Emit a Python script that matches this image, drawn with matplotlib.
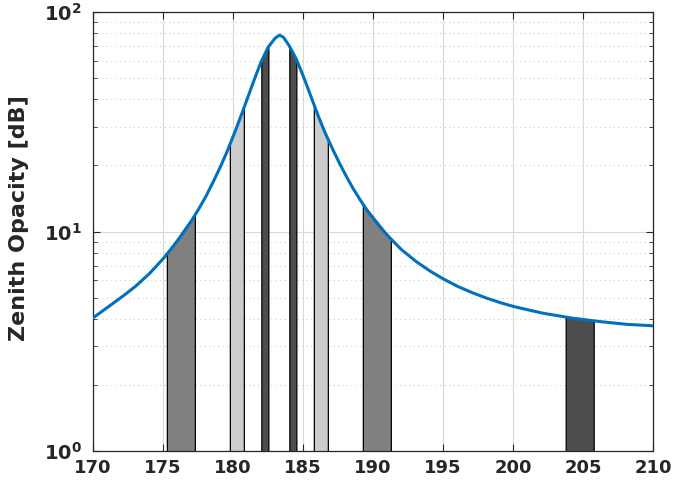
import numpy as np
import matplotlib
matplotlib.use("Agg")
import matplotlib.pyplot as plt
from matplotlib.ticker import LogLocator, MultipleLocator, NullFormatter

# opacity curve (GHz, dB)
freq = [170, 171, 172, 173, 174, 175, 176, 177, 177.5, 178, 178.5, 179, 179.5,
        180, 180.5, 181, 181.5, 182, 182.5, 183, 183.31, 183.6, 184, 184.5,
        185, 185.5, 186, 186.5, 187, 187.5, 188, 188.5, 189, 189.5, 190, 190.5,
        191, 192, 193, 194, 195, 196, 197, 198, 199, 200, 202, 204, 206, 208, 210]
opacity = [4.04, 4.5, 5.0, 5.6, 6.4, 7.5, 9.0, 11.1, 12.5, 14.2, 16.4, 19.1,
           22.5, 27.0, 32.7, 39.9, 48.9, 59.2, 69.1, 76.0, 78.5, 76.8, 70.5,
           61.5, 51.5, 42.3, 34.7, 28.9, 24.6, 21.1, 18.3, 16.0, 14.2, 12.7,
           11.5, 10.5, 9.65, 8.3, 7.36, 6.65, 6.09, 5.64, 5.29, 5.0, 4.76,
           4.56, 4.26, 4.05, 3.9, 3.78, 3.72]

# channel passbands (lower edge, upper edge) and their shading
band_lo = [175.31, 179.81, 182.06, 184.06, 185.81, 189.31, 203.8]
band_hi = [177.31, 180.81, 182.56, 184.56, 186.81, 191.31, 205.8]
band_col = ['#808080', '#cccccc', '#4d4d4d', '#4d4d4d', '#cccccc', '#808080', '#4d4d4d']

plt.rcParams['mathtext.default'] = 'bf'

fig = plt.figure(figsize=(6.87, 4.82), dpi=100)
ax = fig.add_axes([0.1354, 0.0643, 0.8151, 0.9107])

# draw the line in log space through the read points
fx = np.linspace(170, 210, 800)
fy = 10 ** np.interp(fx, freq, np.log10(opacity))

for lo, hi, c in zip(band_lo, band_hi, band_col):
    xs = np.linspace(lo, hi, 30)
    top = 10 ** np.interp(xs, freq, np.log10(opacity))
    ax.fill_between(xs, 1, top, facecolor=c, edgecolor='none', zorder=2)
    ax.plot([lo, lo, hi, hi], [1, top[0], top[-1], 1], color='black', lw=0.9, zorder=3)
    ax.plot(xs, top, color='black', lw=0.9, zorder=3)

ax.plot(fx, fy, color='#0072BD', lw=2.2, zorder=4)

ax.set_yscale('log')
ax.set_xlim(170, 210)
ax.set_ylim(1, 100)
ax.xaxis.set_major_locator(MultipleLocator(5))
ax.yaxis.set_major_locator(LogLocator(base=10))
ax.yaxis.set_minor_locator(LogLocator(base=10, subs=np.arange(2, 10)))
ax.yaxis.set_minor_formatter(NullFormatter())

ax.set_axisbelow(True)
ax.grid(True, which='major', color='#d9d9d9', lw=0.8, ls='-')
ax.grid(True, which='minor', axis='y', color='#cfcfcf', lw=0.8, ls=(0, (1, 3)))

ax.tick_params(which='both', direction='in', top=True, right=True,
               colors='#262626', labelsize=13)
ax.tick_params(axis='y', which='major', pad=8, labelsize=14)
ax.tick_params(axis='x', which='major', pad=6)
ax.tick_params(which='major', length=5)
ax.tick_params(which='minor', length=3)
for lab in ax.get_xticklabels() + ax.get_yticklabels():
    lab.set_fontweight('bold')
for s in ax.spines.values():
    s.set_color('#262626')
    s.set_linewidth(0.9)

ax.set_ylabel('Zenith Opacity [dB]', fontsize=16, fontweight='bold', color='#262626')
ax.yaxis.set_label_coords(-0.115, 0.53)

fig.savefig('out.png', dpi=100)
